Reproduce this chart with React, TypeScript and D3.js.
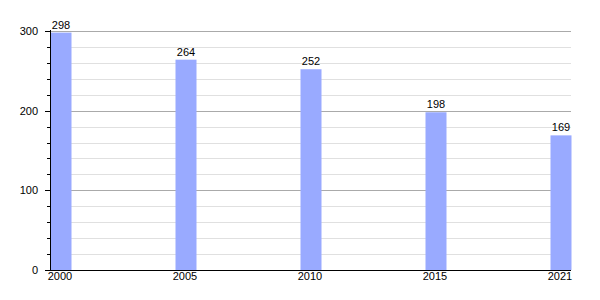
import React from "react";
import * as d3 from "d3";

const years = ["2000", "2005", "2010", "2015", "2021"];
const values = [298, 264, 252, 198, 169];
const majorTicks = [0, 100, 200, 300];
const minorTicks = [20, 40, 60, 80, 120, 140, 160, 180, 220, 240, 260, 280];

export default function App() {
  const W = 600, H = 300;
  const left = 50, right = 571, top = 30, bottom = 270;
  const barW = 21;
  const x = d3.scalePoint<string>().domain(years).range([left + 0.5, right - barW + 0.5]).padding(0);
  const y = d3.scaleLinear().domain([0, 300]).range([bottom, top + 1]);
  const font = "'Liberation Sans', Arial, sans-serif";
  return (
    <svg width={W} height={H} style={{ position: "absolute", left: 0, top: 0 }} fontFamily={font}>
      <rect width={W} height={H} fill="#fff" />
      {minorTicks.map((t) => (
        <g key={"m" + t}>
          <line x1={left} x2={right} y1={Math.round(y(t)) + 0.5} y2={Math.round(y(t)) + 0.5} stroke="#e0e0e0" />
          <line x1={left - 3} x2={left} y1={Math.round(y(t)) + 0.5} y2={Math.round(y(t)) + 0.5} stroke="#000" />
        </g>
      ))}
      {majorTicks.filter((t) => t > 0).map((t) => (
        <line key={"g" + t} x1={left} x2={right} y1={Math.round(y(t)) + 0.5} y2={Math.round(y(t)) + 0.5} stroke="#aaa" />
      ))}
      {years.map((yr, i) => (
        <g key={yr}>
          <rect x={x(yr)!} y={y(values[i])} width={barW} height={bottom - y(values[i])} fill="#99aaff" />
          <text x={x(yr)! + barW / 2} y={y(values[i]) - 4} textAnchor="middle" fontSize={11} fill="#000">
            {values[i]}
          </text>
          <text x={x(yr)! + barW / 2 - 1} y={bottom + 10} textAnchor="middle" fontSize={11} fill="#000">
            {yr}
          </text>
        </g>
      ))}
      {majorTicks.map((t) => (
        <g key={"t" + t}>
          <line x1={left - 5} x2={left} y1={Math.round(y(t)) + 0.5} y2={Math.round(y(t)) + 0.5} stroke="#000" />
          <text x={38} y={y(t) + 4} textAnchor="end" fontSize={11} fill="#000">{t}</text>
        </g>
      ))}
      <line x1={left + 0.5} x2={left + 0.5} y1={top} y2={bottom} stroke="#000" />
      <line x1={left} x2={right} y1={bottom + 0.5} y2={bottom + 0.5} stroke="#000" />
    </svg>
  );
}
